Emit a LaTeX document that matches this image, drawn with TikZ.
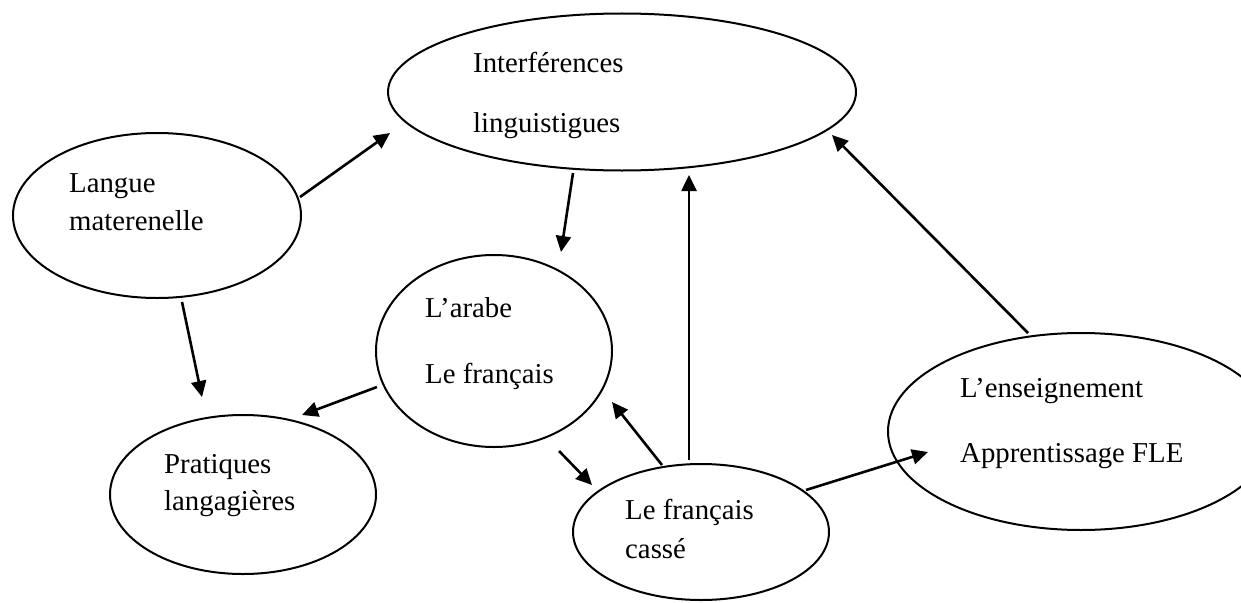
\documentclass[tikz,border=0pt]{standalone}
\usepackage{fontspec}
\setmainfont{Liberation Serif}
\usetikzlibrary{shapes.geometric,arrows.meta,calc}
\begin{document}
\begin{tikzpicture}[x=1pt,y=-1pt,
  bubble/.style={ellipse, draw, line width=2pt, inner sep=0pt, outer sep=0pt},
  lbl/.style={anchor=base west, inner sep=0pt, font=\fontsize{28.8}{34}\selectfont},
  arr/.style={line width=2.6pt, -{Triangle[length=16pt,width=15pt]}}]
\useasboundingbox (0,0) rectangle (1241,602);
% ellipses
\node[bubble, minimum width=468pt, minimum height=157pt] (interf) at (622,92) {};
\node[bubble, minimum width=288pt, minimum height=165pt] (langue) at (157,215.5) {};
\node[bubble, minimum width=236pt, minimum height=192pt] (arabe) at (494,351) {};
\node[bubble, minimum width=266pt, minimum height=159pt] (prat) at (243,494.5) {};
\node[bubble, minimum width=256pt, minimum height=136pt] (casse) at (701,532) {};
\node[bubble, minimum width=386pt, minimum height=197pt] (ens) at (1081,431.5) {};
% texts
\node[lbl] (interf-t1) at (473,72) {Interférences};
\node[lbl] (interf-t2) at (473,132) {linguistigues};
\node[lbl] (langue-t1) at (69,192) {Langue};
\node[lbl] (langue-t2) at (69,230) {materenelle};
\node[lbl] (arabe-t1) at (425,317) {L’arabe};
\node[lbl] (arabe-t2) at (425,383) {Le français};
\node[lbl] (prat-t1) at (164,473) {Pratiques};
\node[lbl] (prat-t2) at (164,510) {langagières};
\node[lbl] (casse-t1) at (625,519) {Le français};
\node[lbl] (casse-t2) at (625,558) {cassé};
\node[lbl] (ens-t1) at (960,397) {L’enseignement};
\node[lbl] (ens-t2) at (960,462) {Apprentissage FLE};
% connectors
\draw[arr] ($(langue.center)+(143,-18.5)$) -- ($(interf.center)+(-232,41)$);
\draw[arr] ($(interf.center)+(-49,81)$) -- ($(arabe.center)+(67,-99)$);
\draw[arr] ($(langue.center)+(25,86.5)$) -- ($(prat.center)+(-41,-97.5)$);
\draw[arr] ($(arabe.center)+(-117,36)$) -- ($(prat.center)+(59,-79.5)$);
\draw[arr] ($(arabe.center)+(65,100)$) -- ($(casse.center)+(-109,-47)$);
\draw[arr] ($(casse.center)+(-39,-67)$) -- ($(arabe.center)+(118,51)$);
\draw[arr] ($(casse.center)+(-12,-72)$) -- ($(interf.center)+(67,83)$);
\draw[arr] ($(casse.center)+(105,-42)$) -- ($(ens.center)+(-153,20.5)$);
\draw[arr] ($(ens.center)+(-53,-98.5)$) -- ($(interf.center)+(210,43)$);
\end{tikzpicture}
\end{document}
